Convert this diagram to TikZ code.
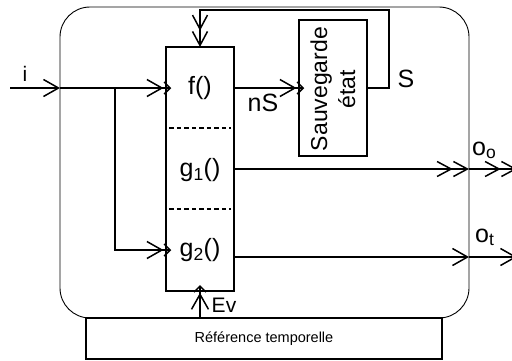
\documentclass[tikz,border=0pt]{standalone}
\usepackage{fontspec}
\setmainfont{Liberation Sans}
\usetikzlibrary{arrows.meta}
\tikzset{
  ln/.style={line width=1.5pt, line join=miter},
  blk/.style={draw, line width=1.5pt, fill=white, inner sep=0pt},
  big/.style={font=\fontsize{25}{28}\selectfont},
  mid/.style={font=\fontsize{21}{24}\selectfont},
  inarr/.style={ln, shorten >=-6pt, -{Straight Barb[length=15pt,width=17pt] Straight Barb[length=6pt,width=12pt]}},
  sarr/.style={ln, -{Straight Barb[length=15pt,width=17pt]}},
  darr/.style={ln, -{Straight Barb[length=14pt,width=15pt] Straight Barb[length=14pt,width=15pt]}},
  dsh/.style={line width=1.3pt, dash pattern=on 4.5pt off 3pt},
}
\begin{document}
\begin{tikzpicture}[x=1pt,y=-1pt]
\useasboundingbox (0,0) rectangle (512,360);
\clip (0,0) rectangle (512,360);
% outer rounded box
\draw[line width=0.9pt, rounded corners=30pt] (60,7) rectangle (469,318);
% blocks
\node[blk, minimum width=68pt, minimum height=244pt] (fg) at (200,169) {};
\draw[dsh] (fg.west |- 0,128) ++(4,0) -- ([xshift=-4pt]fg.east |- 0,128);
\draw[dsh] (fg.west |- 0,209) ++(4,0) -- ([xshift=-4pt]fg.east |- 0,209);
\node[big] (f) at (200,88) {f()};
\node[big] (g1) at (200,170) {g\textsubscript{1}()};
\node[big] (g2) at (200,250) {g\textsubscript{2}()};
\node[blk, minimum width=68pt, minimum height=136pt] (sv) at (333,88) {};
\node[rotate=90, align=center, font=\fontsize{23}{28}\selectfont] (svt) at (333,89) {Sauvegarde\\état};
\node[blk, minimum width=356pt, minimum height=41pt, font=\fontsize{14.5}{16}\selectfont] (ref) at (264,338.5) {Référence temporelle};
% coordinates
\coordinate (iin) at (10,88);
\coordinate (iedge) at (60,88);
\coordinate (fin) at (fg.west |- 0,88);
\coordinate (br) at (115,88);
\coordinate (g2in) at (fg.west |- 0,250);
\coordinate (fout) at (fg.east |- 0,88);
\coordinate (svin) at (sv.west |- 0,88);
\coordinate (svout) at (sv.east |- 0,88);
\coordinate (top) at (200,47);
\coordinate (g1out) at (fg.east |- 0,169);
\coordinate (g1edge) at (469,169);
\coordinate (g1end) at (517,169);
\coordinate (g2out) at (fg.east |- 0,257);
\coordinate (g2edge) at (469,257);
\coordinate (g2end) at (517,257);
\coordinate (evs) at (200,318);
\coordinate (eve) at (200,291);
% connectors
\draw[sarr] (iin) -- (iedge);
\draw[inarr] (iedge) -- (fin);
\draw[inarr] (br) |- (g2in);
\draw[inarr] (fout) -- (svin);
\draw[darr] (svout) -- (389,88) -- (389,10) -- (200,10) -- (top);
\draw[darr] (g1out) -- (g1edge);
\draw[darr] (g1edge) -- (g1end);
\draw[sarr] (g2out) -- (g2edge);
\draw[sarr] (g2edge) -- (g2end);
\draw[inarr] (evs) -- (eve);
% labels
\node[mid] (il) at (25,74) {i};
\node[big] (nsl) at (263,103) {nS};
\node[big] (sl) at (406,79) {S};
\node[big, anchor=base west, inner sep=0pt] (ool) at (472,155) {o\textsubscript{o}};
\node[big, anchor=base west, inner sep=0pt] (otl) at (475,242) {o\textsubscript{t}};
\node[mid] (evl) at (224,305) {Ev};
\end{tikzpicture}
\end{document}
